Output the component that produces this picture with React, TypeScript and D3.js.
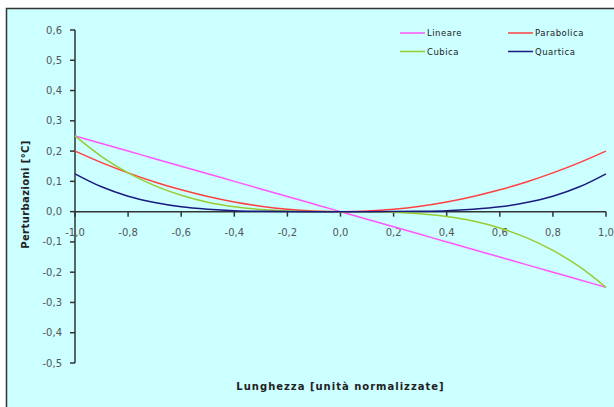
import { useEffect, useRef } from 'react';
import * as d3 from 'd3';

const xValues = [-1, -0.9, -0.8, -0.7, -0.6, -0.5, -0.4, -0.3, -0.2, -0.1, 0, 0.1, 0.2, 0.3, 0.4, 0.5, 0.6, 0.7, 0.8, 0.9, 1];

const lineare = [0.25, 0.225, 0.2, 0.175, 0.15, 0.125, 0.1, 0.075, 0.05, 0.025, 0, -0.025, -0.05, -0.075, -0.1, -0.125, -0.15, -0.175, -0.2, -0.225, -0.25];
const parabolica = [0.2, 0.162, 0.128, 0.098, 0.072, 0.05, 0.032, 0.018, 0.008, 0.002, 0, 0.002, 0.008, 0.018, 0.032, 0.05, 0.072, 0.098, 0.128, 0.162, 0.2];
const cubica = [0.25, 0.182, 0.128, 0.086, 0.054, 0.031, 0.016, 0.007, 0.002, 0.0003, 0, -0.0003, -0.002, -0.007, -0.016, -0.031, -0.054, -0.086, -0.128, -0.182, -0.25];
const quartica = [0.125, 0.082, 0.051, 0.03, 0.016, 0.008, 0.003, 0.001, 0.0002, 0, 0, 0, 0.0002, 0.001, 0.003, 0.008, 0.016, 0.03, 0.051, 0.082, 0.125];

const seriesNames = ['Lineare', 'Parabolica', 'Cubica', 'Quartica'];
const seriesValues = [lineare, parabolica, cubica, quartica];
const seriesColors = ['#ff55ff', '#ff4040', '#99cc33', '#1a1a80'];

const xTicks = [-1, -0.8, -0.6, -0.4, -0.2, 0, 0.2, 0.4, 0.6, 0.8, 1];
const yTicks = [0.6, 0.5, 0.4, 0.3, 0.2, 0.1, 0, -0.1, -0.2, -0.3, -0.4, -0.5];

const width = 614;
const height = 407;

export default function App() {
  const svgRef = useRef<SVGSVGElement>(null);

  useEffect(() => {
    if (!svgRef.current) return;
    const svg = d3.select(svgRef.current);
    svg.selectAll('*').remove();

    const font = "'DejaVu Sans', Tahoma, sans-serif";
    const fmt = (d: number) => d3.format('.1f')(d).replace('.', ',').replace('−', '-');

    // frame
    svg.append('rect')
      .attr('x', 6.5).attr('y', 8.5)
      .attr('width', width).attr('height', height)
      .attr('fill', '#ccffff')
      .attr('stroke', '#333')
      .attr('stroke-width', 1.5);

    const x = d3.scaleLinear().domain([-1, 1]).range([75, 606]);
    const y = d3.scaleLinear().domain([-0.5, 0.6]).range([363, 30]);

    // y axis
    svg.append('line')
      .attr('x1', x(-1)).attr('x2', x(-1))
      .attr('y1', y(0.6)).attr('y2', y(-0.5))
      .attr('stroke', '#333').attr('stroke-width', 1.5);
    svg.append('g').selectAll('line')
      .data(yTicks).enter().append('line')
      .attr('x1', x(-1) - 5).attr('x2', x(-1))
      .attr('y1', d => y(d)).attr('y2', d => y(d))
      .attr('stroke', '#333').attr('stroke-width', 1.5);
    svg.append('g').selectAll('text')
      .data(yTicks).enter().append('text')
      .attr('x', 62).attr('y', d => y(d) + 3.5)
      .attr('text-anchor', 'end')
      .attr('font-family', font).attr('font-size', 10)
      .attr('fill', '#555')
      .text(fmt);

    // x axis
    svg.append('line')
      .attr('x1', x(-1)).attr('x2', x(1))
      .attr('y1', y(0)).attr('y2', y(0))
      .attr('stroke', '#333').attr('stroke-width', 1.5);
    svg.append('g').selectAll('line')
      .data(xTicks).enter().append('line')
      .attr('x1', d => x(d)).attr('x2', d => x(d))
      .attr('y1', y(0)).attr('y2', y(0) + 5)
      .attr('stroke', '#333').attr('stroke-width', 1.5);
    svg.append('g').selectAll('text')
      .data(xTicks).enter().append('text')
      .attr('x', d => x(d)).attr('y', y(0) + 24)
      .attr('text-anchor', 'middle')
      .attr('font-family', font).attr('font-size', 10)
      .attr('fill', '#555')
      .text(fmt);

    // series
    const line = d3.line<number>()
      .x((_, i) => x(xValues[i]))
      .y(d => y(d))
      .curve(d3.curveMonotoneX);
    seriesValues.forEach((vals, i) => {
      svg.append('path')
        .datum(vals)
        .attr('d', line)
        .attr('fill', 'none')
        .attr('stroke', seriesColors[i])
        .attr('stroke-width', 1.5);
    });

    // axis titles
    svg.append('text')
      .attr('transform', `translate(29,194.5) rotate(-90)`)
      .attr('text-anchor', 'middle')
      .attr('font-family', font).attr('font-size', 10).attr('font-weight', 'bold')
      .attr('letter-spacing', 0.4)
      .attr('fill', '#222')
      .text('Perturbazioni [°C]');
    svg.append('text')
      .attr('x', (x(-1) + x(1)) / 2).attr('y', 390)
      .attr('text-anchor', 'middle')
      .attr('font-family', font).attr('font-size', 10).attr('font-weight', 'bold')
      .attr('letter-spacing', 1)
      .attr('fill', '#222')
      .text('Lunghezza [unità normalizzate]');

    // legend
    const legend = svg.append('g').selectAll('g')
      .data(seriesNames).enter().append('g')
      .attr('transform', (_, i) => `translate(${400 + (i % 2) * 108},${33 + Math.floor(i / 2) * 18.5})`);
    legend.append('line')
      .attr('x1', 0).attr('x2', 25).attr('y1', 0).attr('y2', 0)
      .attr('stroke', (_, i) => seriesColors[i]).attr('stroke-width', 1.5);
    legend.append('text')
      .attr('x', 27).attr('y', 3)
      .attr('font-family', font).attr('font-size', 8.5)
      .attr('letter-spacing', 0.5)
      .attr('fill', '#222')
      .text(d => d);
  }, []);

  return (
    <svg ref={svgRef} width={width} height={height}
      style={{ position: 'absolute', left: 0, top: 0 }} />
  );
}
